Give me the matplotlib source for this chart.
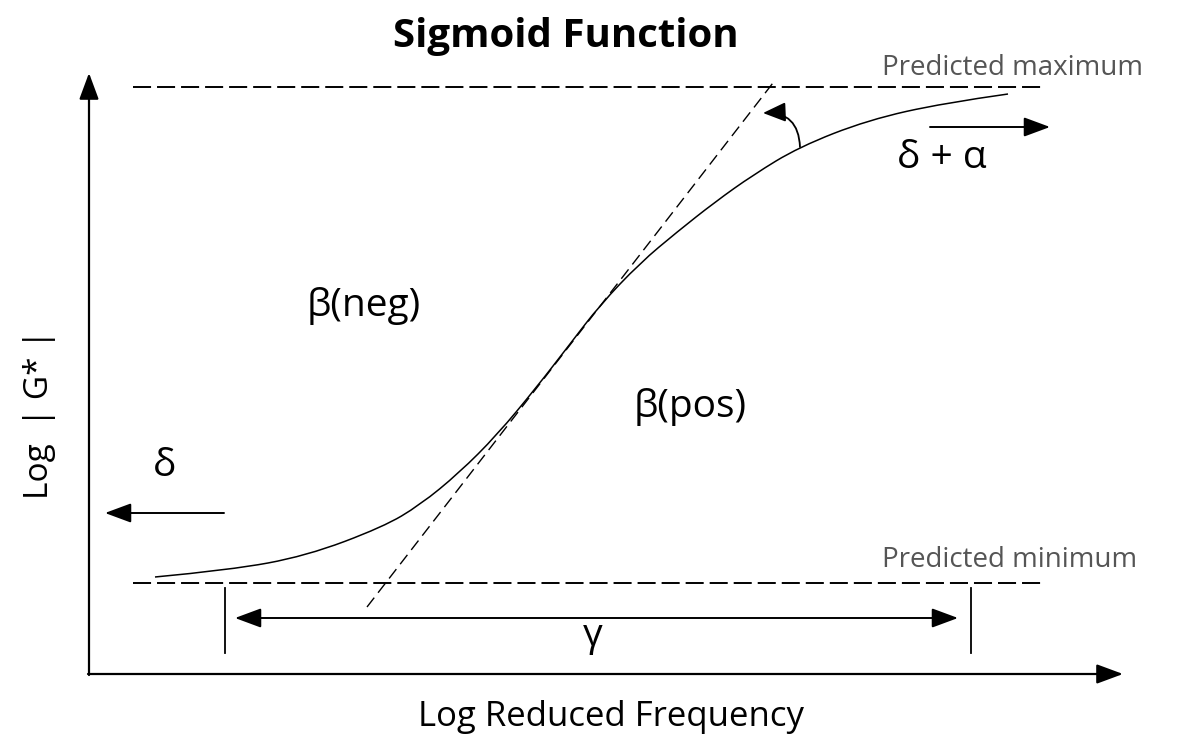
"""
Sigmoid function sketch (Log |G*| vs log reduced frequency)
"""
import matplotlib.pyplot as plt
from matplotlib.patches import FancyArrowPatch, PathPatch
from matplotlib.path import Path

# DATA (picture units, y measured downwards from the top)
#####################
curve_x = [155, 230, 306, 383, 420, 459, 497, 536, 570, 600, 640, 677, 715, 753, 799, 868, 944, 1008]
curve_y = [577, 570, 556, 527, 505, 473, 435, 388, 344, 305, 263, 232, 202, 175, 147, 120, 103, 94]

tangent_x = [367, 776]
tangent_y = [607, 79]

predicted_max = 87
predicted_min = 583
limit_x = [133, 1042]

gamma_x = [225, 971]
gamma_y = 618

plt.rcParams['font.family'] = ['Open Sans', 'DejaVu Sans']
plt.rcParams['lines.scale_dashes'] = False

fig = plt.figure(figsize=(11.97, 7.52), dpi=100)
ax = fig.add_axes([0, 0, 1, 1])
ax.set_xlim(0, 1197)
ax.set_ylim(752, 0)
ax.axis('off')

def arrow(start, end, lw=1.6, hl=1.35, hw=0.5, ms=12, style='-|>', conn='arc3'):
    p = FancyArrowPatch(posA=start, posB=end, arrowstyle='%s,head_length=%g,head_width=%g' % (style, hl, hw),
                        mutation_scale=ms, lw=lw, color='black', shrinkA=0, shrinkB=0,
                        connectionstyle=conn)
    ax.add_patch(p)

# axes
arrow((89, 675), (89, 73))
arrow((88, 674), (1123, 674))

# predicted max / min
ax.plot(limit_x, [predicted_max, predicted_max], color='black', lw=1.4, ls=(0, (13, 4.3)))
ax.plot(limit_x, [predicted_min, predicted_min], color='black', lw=1.4, ls=(0, (13, 4.3)))
ax.text(1143, 75, 'Predicted maximum', fontsize=20, color='#555555', ha='right', va='baseline')
ax.text(1137, 567, 'Predicted minimum', fontsize=20, color='#555555', ha='right', va='baseline')

# sigmoid drawn as a smooth path through the read points
pts = list(zip(curve_x, curve_y))
verts = [pts[0]]
codes = [Path.MOVETO]
for i in range(1, len(pts) - 1):
    mid = ((pts[i][0] + pts[i + 1][0]) / 2, (pts[i][1] + pts[i + 1][1]) / 2)
    if i == len(pts) - 2:
        mid = pts[-1]
    verts += [pts[i], mid]
    codes += [Path.CURVE3, Path.CURVE3]
ax.add_patch(PathPatch(Path(verts, codes), fill=False, lw=1.1, color='black'))

ax.plot(tangent_x, tangent_y, color='black', lw=1.0, ls=(0, (8.5, 4.5)))

# slope arrow
arrow((800, 147), (763, 113), lw=1.3, hl=1.4, hw=0.6, ms=10, conn='arc3,rad=0.5')

# asymptote arrows
arrow((930, 127), (1050, 127), lw=1.4)
arrow((224, 513), (105, 513), lw=1.4)

# gamma span
arrow((235, gamma_y), (958, gamma_y), lw=1.4, style='<|-|>')
for gx in gamma_x:
    ax.plot([gx, gx], [588, 653], color='black', lw=1.3)

# labels
ax.text(566, 37, 'Sigmoid Function', fontsize=29, fontweight='bold', ha='center', va='center')
ax.text(364, 306, 'β(neg)', fontsize=28, ha='center', va='center')
ax.text(690, 407, 'β(pos)', fontsize=28, ha='center', va='center')
ax.text(165, 466, 'δ', fontsize=28, ha='center', va='center')
ax.text(942, 158, 'δ + α', fontsize=28, ha='center', va='center')
ax.text(593, 636, 'γ', fontsize=28, ha='center', va='center')
ax.text(611, 717, 'Log Reduced Frequency', fontsize=25, ha='center', va='center')
ax.text(39, 414, 'Log  | G* |', fontsize=24, ha='center', va='center', rotation=90)

plt.savefig('out.png', dpi=100)
